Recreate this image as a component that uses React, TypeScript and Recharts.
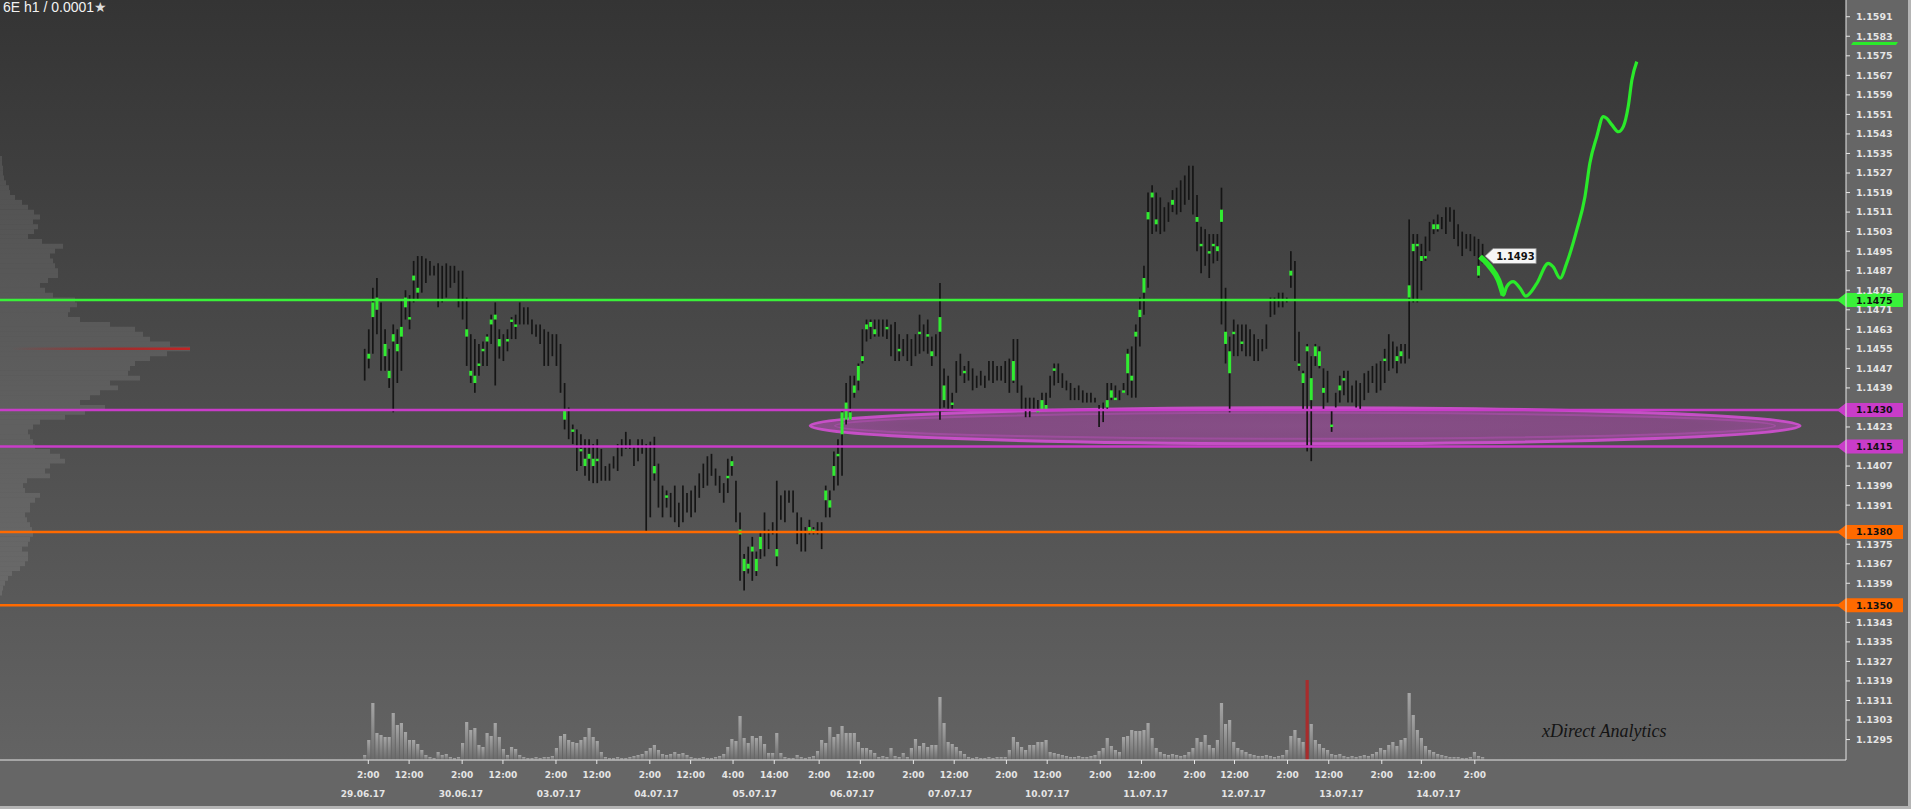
import React from 'react'
import {
  ComposedChart,
  Bar,
  Line,
  XAxis,
  YAxis,
  CartesianGrid,
  ReferenceLine,
  ReferenceArea,
  ReferenceDot,
} from 'recharts'

// prices are stored in pips above 1.1400
const BASE = 1.14
const PIP = 0.0001
const FIRST_BAR = -1

const highs = [
  55, 63, 80, 84, 74, 63, 55, 65, 63, 75,
  79, 77, 91, 93, 93, 92, 91, 89, 90, 89,
  90, 89, 89, 87, 87, 76, 61, 59, 57, 58,
  61, 69, 74, 63, 61, 63, 68, 69, 74, 72,
  72, 67, 65, 65, 63, 62, 61, 61, 57, 41,
  31, 24, 22, 20, 18, 18, 16, 18, 14, 7,
  8, 11, 16, 18, 21, 18, 15, 18, 18, 16,
  17, 19, 8, -1, -3, -4, -1, -8, -1, -4,
  -3, -1, 4, 8, 11, 12, 6, 3, 0, 10,
  11, 1, -12, -29, -26, -22, -28, -20, -12, -19,
  -16, 1, -5, -3, -3, -3, -12, -14, -18, -15,
  -18, -16, -16, -1, -3, 13, 18, 30, 41, 44,
  44, 49, 63, 67, 67, 67, 67, 67, 67, 65,
  66, 61, 59, 61, 59, 61, 69, 65, 67, 60,
  61, 82, 47, 44, 37, 50, 53, 48, 50, 47,
  44, 46, 44, 50, 50, 48, 48, 50, 51, 59,
  59, 40, 35, 35, 35, 34, 37, 37, 44, 49,
  49, 45, 42, 41, 39, 40, 38, 37, 37, 35,
  32, 33, 41, 41, 40, 38, 41, 55, 56, 65,
  76, 89, 119, 122, 119, 117, 113, 115, 120, 121,
  124, 126, 130, 130, 118, 105, 104, 102, 102, 102,
  121, 80, 60, 67, 65, 65, 65, 63, 61, 59,
  59, 65, 76, 76, 78, 78, 76, 95, 91, 62,
  46, 57, 52, 57, 56, 47, 46, 30, 37, 44,
  46, 46, 40, 42, 41, 45, 46, 48, 49, 50,
  55, 61, 58, 56, 57, 57, 108, 102, 102, 98,
  101, 107, 108, 110, 109, 113, 113, 112, 106, 103,
  102, 102, 101, 100, 98,
]

const lows = [
  42, 47, 53, 61, 46, 46, 39, 29, 41, 46,
  67, 63, 74, 75, 78, 82, 85, 85, 72, 74,
  76, 80, 82, 72, 67, 48, 41, 37, 44, 48,
  48, 57, 40, 51, 50, 54, 59, 59, 65, 65,
  65, 61, 60, 57, 48, 48, 52, 48, 37, 22,
  18, 16, 5, 7, 3, 1, 0, 0, 1, 1,
  1, 6, 5, 11, 14, 14, 7, 9, 12, -20,
  -14, 1, -10, -14, -10, -14, -16, -18, -16, -12,
  -14, -12, -6, -2, -1, 3, -1, -4, -8, -4,
  3, -16, -40, -44, -37, -40, -38, -31, -30, -27,
  -21, -34, -15, -16, -8, -12, -25, -28, -28, -21,
  -21, -21, -27, -14, -14, -3, -1, 3, 24, 26,
  35, 38, 49, 58, 59, 60, 60, 60, 59, 52,
  50, 50, 52, 50, 48, 52, 53, 54, 53, 48,
  52, 26, 31, 30, 30, 37, 44, 41, 42, 38,
  39, 40, 39, 42, 41, 42, 42, 41, 37, 41,
  37, 30, 27, 27, 30, 29, 30, 30, 35, 40,
  41, 39, 38, 34, 34, 34, 33, 33, 33, 33,
  23, 25, 30, 34, 34, 34, 37, 36, 35, 35,
  56, 69, 80, 102, 103, 102, 103, 107, 111, 110,
  111, 114, 116, 110, 95, 86, 89, 84, 90, 91,
  65, 49, 29, 52, 52, 54, 52, 52, 50, 50,
  54, 55, 68, 69, 72, 72, 74, 80, 50, 46,
  30, 13, 9, 48, 47, 30, 33, 21, 31, 33,
  36, 33, 33, 31, 30, 34, 37, 41, 37, 38,
  41, 46, 47, 45, 49, 49, 51, 74, 74, 79,
  91, 95, 102, 103, 104, 102, 107, 100, 97, 93,
  96, 95, 93, 84, 90,
]

const opens = [
  52, 51, 68, 71, 72, 52, 43, 58, 54, 60,
  72, 67, 83, 78, 90, 90, 90, 88, 88, 86,
  88, 88, 88, 86, 85, 60, 44, 41, 48, 54,
  58, 65, 67, 56, 60, 58, 66, 64, 73, 71,
  71, 66, 64, 64, 62, 60, 59, 60, 52, 26,
  29, 21, 20, 13, 7, 10, 7, 9, 12, 6,
  7, 10, 14, 17, 20, 17, 14, 17, 17, 14,
  15, 4, 7, -2, -6, -5, -2, -9, -3, -5,
  -4, -2, 3, 7, 10, 11, 5, 2, -1, 2,
  7, 0, -21, -36, -35, -28, -36, -27, -14, -20,
  -17, -30, -6, -5, -4, -4, -13, -16, -19, -20,
  -20, -17, -17, -7, -10, 3, 11, 20, 26, 26,
  37, 42, 50, 63, 64, 61, 66, 66, 63, 64,
  65, 54, 58, 60, 58, 60, 61, 64, 60, 52,
  60, 62, 34, 42, 32, 48, 52, 45, 48, 46,
  43, 45, 43, 49, 49, 47, 47, 49, 50, 42,
  57, 39, 34, 34, 35, 29, 30, 30, 43, 46,
  48, 44, 42, 40, 38, 39, 37, 37, 36, 35,
  31, 32, 31, 35, 34, 37, 37, 45, 42, 60,
  68, 78, 108, 117, 106, 116, 112, 113, 114, 119,
  123, 124, 129, 128, 107, 97, 103, 94, 97, 95,
  107, 57, 45, 61, 64, 57, 64, 62, 60, 58,
  58, 64, 75, 76, 77, 77, 76, 85, 90, 48,
  41, 54, 34, 52, 48, 37, 45, 23, 36, 38,
  42, 45, 39, 41, 40, 44, 46, 48, 48, 49,
  50, 60, 57, 50, 52, 57, 76, 95, 97, 91,
  92, 106, 104, 104, 108, 112, 112, 111, 105, 102,
  102, 101, 100, 85, 96,
]

const closes = [
  45, 53, 74, 76, 50, 57, 46, 61, 57, 64,
  76, 68, 85, 80, 80, 84, 86, 86, 75, 76,
  80, 82, 84, 75, 70, 63, 46, 44, 49, 55,
  60, 67, 69, 59, 52, 59, 67, 65, 66, 66,
  67, 62, 61, 58, 50, 50, 53, 49, 40, 30,
  20, 22, 7, 14, 10, 12, 10, 10, 3, 2,
  2, 7, 7, 12, 15, 15, 8, 10, 13, -16,
  -10, 7, -8, -12, -5, -13, -14, -17, -14, -11,
  -12, -10, -5, 0, 0, 4, 0, -3, -7, 3,
  9, -12, -19, -31, -33, -26, -31, -22, -28, -26,
  -20, -27, -14, -14, -7, -11, -23, -26, -27, -18,
  -19, -20, -26, -3, -7, 7, 12, 29, 33, 29,
  40, 48, 52, 65, 66, 63, 61, 62, 64, 53,
  52, 55, 53, 51, 49, 53, 62, 55, 61, 54,
  53, 68, 40, 32, 33, 38, 45, 46, 43, 39,
  40, 41, 40, 43, 42, 43, 43, 42, 38, 50,
  39, 31, 28, 28, 31, 30, 34, 32, 36, 47,
  42, 40, 39, 35, 35, 35, 34, 33, 33, 33,
  24, 26, 34, 38, 35, 35, 38, 53, 44, 62,
  71, 84, 111, 119, 108, 104, 105, 108, 116, 112,
  113, 115, 117, 112, 109, 98, 90, 95, 98, 97,
  112, 62, 54, 62, 53, 58, 53, 54, 51, 51,
  55, 56, 69, 70, 72, 72, 74, 87, 52, 49,
  45, 56, 43, 56, 54, 39, 34, 24, 31, 40,
  43, 35, 33, 32, 31, 35, 37, 41, 39, 39,
  51, 47, 48, 52, 54, 50, 81, 98, 98, 93,
  93, 96, 106, 106, 105, 104, 108, 102, 98, 95,
  97, 96, 94, 89, 93,
]

const volumes = [
  5, 20, 57, 27, 25, 23, 23, 47, 35, 37,
  28, 20, 20, 16, 10, 5, 3, 2, 8, 5,
  6, 3, 2, 3, 17, 38, 30, 32, 15, 13,
  27, 24, 37, 23, 11, 5, 13, 11, 5, 3,
  2, 2, 3, 2, 3, 3, 4, 12, 24, 26,
  20, 18, 17, 20, 23, 32, 23, 19, 8, 3,
  2, 2, 3, 2, 2, 3, 4, 5, 6, 9,
  12, 15, 10, 6, 5, 6, 8, 6, 7, 5,
  3, 2, 2, 3, 2, 2, 3, 4, 6, 13,
  21, 19, 44, 22, 17, 24, 22, 24, 16, 7,
  7, 27, 7, 3, 2, 2, 5, 3, 2, 3,
  4, 9, 20, 17, 33, 23, 26, 34, 27, 27,
  27, 18, 12, 12, 10, 7, 3, 4, 3, 12,
  4, 3, 7, 3, 12, 21, 14, 17, 13, 15,
  15, 63, 37, 18, 16, 13, 9, 6, 3, 2,
  3, 2, 2, 3, 2, 3, 3, 3, 10, 23,
  18, 13, 10, 15, 15, 18, 18, 20, 8, 7,
  6, 5, 4, 3, 3, 4, 3, 3, 4, 5,
  9, 12, 22, 14, 10, 8, 23, 24, 30, 29,
  29, 30, 37, 22, 12, 8, 6, 5, 6, 5,
  4, 5, 8, 12, 22, 18, 25, 15, 12, 20,
  57, 36, 40, 18, 12, 10, 8, 6, 5, 4,
  4, 5, 4, 3, 4, 5, 10, 24, 30, 22,
  18, 80, 36, 20, 16, 12, 10, 6, 5, 6,
  4, 3, 4, 3, 4, 5, 4, 6, 8, 12,
  10, 15, 18, 14, 20, 22, 67, 45, 30, 22,
  14, 10, 8, 6, 5, 4, 3, 3, 3, 2,
  2, 3, 8, 4, 3,
]

// volume at price (left profile)
const profileLevels = [
  1.1533, 1.1531, 1.1529, 1.1527, 1.1525, 1.1523, 1.1521, 1.1519, 1.1517, 1.1515,
  1.1513, 1.1511, 1.1509, 1.1507, 1.1505, 1.1503, 1.1501, 1.1499, 1.1497, 1.1495,
  1.1493, 1.1491, 1.1489, 1.1487, 1.1485, 1.1483, 1.1481, 1.1479, 1.1477, 1.1475,
  1.1473, 1.1471, 1.1469, 1.1467, 1.1465, 1.1463, 1.1461, 1.1459, 1.1457, 1.1455,
  1.1453, 1.1451, 1.1449, 1.1447, 1.1445, 1.1443, 1.1441, 1.1439, 1.1437, 1.1435,
  1.1433, 1.1431, 1.1429, 1.1427, 1.1425, 1.1423, 1.1421, 1.1419, 1.1417, 1.1415,
  1.1413, 1.1411, 1.1409, 1.1407, 1.1405, 1.1403, 1.1401, 1.1399, 1.1397, 1.1395,
  1.1393, 1.1391, 1.1389, 1.1387, 1.1385, 1.1383, 1.1381, 1.1379, 1.1377, 1.1375,
  1.1373, 1.1371, 1.1369, 1.1367, 1.1365, 1.1363, 1.1361, 1.1359, 1.1357, 1.1355,
]
const profileVolumes = [
  2, 2, 3, 3, 4, 6, 9, 10, 15, 22,
  28, 34, 40, 33, 38, 34, 28, 42, 63, 55,
  50, 53, 55, 58, 58, 48, 40, 45, 53, 75,
  77, 70, 68, 80, 110, 135, 143, 150, 170, 190,
  167, 150, 135, 130, 128, 140, 110, 118, 100, 90,
  80, 105, 85, 65, 40, 33, 28, 30, 33, 35,
  50, 60, 65, 50, 45, 50, 27, 23, 25, 40,
  35, 30, 30, 25, 27, 30, 32, 33, 30, 28,
  22, 28, 28, 25, 20, 12, 8, 5, 3, 2,
]

// hand-drawn projection (bar index, pips)
const projIndex = [
  272.5, 274.9, 277.0, 278.2, 279.0, 280.6, 282.3, 283.7, 286.4, 289.2, 290.4, 292.1, 293.7,
  296.2, 298.2, 299.4, 301.1, 302.7, 303.5, 304.8, 306.4, 307.6, 308.8, 309.7, 310.9,
]
const projPips = [
  92.7, 88.6, 83.2, 77.0, 80.4, 82.5, 79.8, 76.6, 81.8, 90.0, 88.6, 83.9, 90.0,
  103.7, 117.3, 131.0, 141.9, 150.1, 149.4, 146.7, 143.9, 146.0, 154.2, 165.1, 172.6,
]

const levelPrices = [1.1475, 1.143, 1.1415, 1.138, 1.135]
const levelColors = ['#39f139', '#c93cc9', '#c93cc9', '#ff6a00', '#ff6a00']
const targetPrice = 1.158

// accumulation zone (ellipse)
const zoneFrom = 108.3
const zoneTo = 350.9
const zoneLow = 1.14161
const zoneHigh = 1.14309

const priceTicks = [
  1.1591, 1.1583, 1.1575, 1.1567, 1.1559, 1.1551, 1.1543, 1.1535, 1.1527, 1.1519,
  1.1511, 1.1503, 1.1495, 1.1487, 1.1479, 1.1471, 1.1463, 1.1455, 1.1447, 1.1439,
  1.1423, 1.1407, 1.1399, 1.1391, 1.1375, 1.1367, 1.1359, 1.1343, 1.1335, 1.1327,
  1.1319, 1.1311, 1.1303, 1.1295,
]
const timeTicks = [
  0, 10, 23, 33, 46, 56, 69, 79, 89.4, 99.5, 110.5, 120.6, 133.6, 143.6, 156.4, 166.4,
  179.4, 189.5, 202.5, 212.3, 225.3, 235.4, 248.4, 258.1, 271.2,
]
const timeLabels = [
  '2:00', '12:00', '2:00', '12:00', '2:00', '12:00', '2:00', '12:00', '4:00', '14:00',
  '2:00', '12:00', '2:00', '12:00', '2:00', '12:00', '2:00', '12:00', '2:00', '12:00',
  '2:00', '12:00', '2:00', '12:00', '2:00',
]
const dateTicks = [-1.3, 22.7, 46.7, 70.6, 94.7, 118.6, 142.6, 166.4, 190.5, 214.5, 238.5, 262.3]
const dateLabels = [
  '29.06.17', '30.06.17', '03.07.17', '04.07.17', '05.07.17', '06.07.17',
  '07.07.17', '10.07.17', '11.07.17', '12.07.17', '13.07.17', '14.07.17',
]

const X_DOMAIN: [number, number] = [-90.27, 362.18]
const Y_DOMAIN: [number, number] = [1.128663, 1.159785]
const PROFILE_AXIS_MAX = 1846
const VOLUME_AXIS_MAX = 760
const AXIS_FONT = 'DejaVu Sans, Verdana, sans-serif'

const maxVol = Math.max(...volumes)
const candles = highs.map((h, k) => {
  const hi = BASE + h * PIP
  const lo = BASE + lows[k] * PIP
  return {
    i: FIRST_BAR + k,
    h: hi,
    l: lo,
    o: BASE + opens[k] * PIP,
    c: BASE + closes[k] * PIP,
    range: [lo, hi],
    vol: volumes[k],
    isMax: volumes[k] === maxVol,
  }
})
const lastBar = candles[candles.length - 1]

const projection = projIndex.map((i, k) => ({ i, p: BASE + projPips[k] * PIP }))
const projHead = projection.slice(0, 4)

const maxProfile = Math.max(...profileVolumes)
const pocPrice = profileLevels[profileVolumes.indexOf(maxProfile)]

function CandleShape(props: any) {
  const { x, y, width, height, payload } = props
  if (x == null || y == null || !payload) return null
  const top = Math.min(y, y + height)
  const len = Math.abs(height)
  const cx = x + width / 2
  const span = payload.h - payload.l
  const toY = (v: number) => (span > 0 ? top + ((payload.h - v) / span) * len : top)
  const up = payload.c > payload.o
  const bTop = toY(Math.max(payload.o, payload.c))
  const bBot = toY(Math.min(payload.o, payload.c))
  return (
    <g>
      <line x1={cx} x2={cx} y1={top} y2={top + Math.max(len, 1)} stroke="#151515" strokeWidth={1.7} />
      {up && (
        <rect x={cx - 1.5} y={bTop} width={3} height={Math.max(bBot - bTop, 2)} fill="#31ec31" />
      )}
    </g>
  )
}

function VolumeShape(props: any) {
  const { x, y, width, height, payload } = props
  if (x == null || y == null || !payload) return null
  const top = Math.min(y, y + height)
  return (
    <rect
      x={x + width / 2 - 1.6}
      y={top}
      width={3.2}
      height={Math.abs(height)}
      fill={payload.isMax ? '#a82c2c' : 'url(#volFill)'}
    />
  )
}

function ZoneShape(props: any) {
  const { x, y, width, height } = props
  const cx = x + width / 2
  const cy = y + height / 2
  const rx = width / 2
  const ry = Math.abs(height) / 2
  return (
    <g>
      <ellipse cx={cx} cy={cy} rx={rx} ry={ry} fill="url(#zoneFill)" fillOpacity={1}
        stroke="#cf50cf" strokeOpacity={0.9} strokeWidth={3} />
      <ellipse cx={cx} cy={cy} rx={rx * 0.95} ry={ry * 0.72} fill="none"
        stroke="#cf50cf" strokeOpacity={0.35} strokeWidth={2} />
    </g>
  )
}

function LevelTag(props: any) {
  const { viewBox, text, color } = props
  if (!viewBox) return null
  const r = viewBox.x + viewBox.width
  const y = viewBox.y
  return (
    <g>
      <path
        d={`M${r - 9},${y} L${r},${y - 7} L${r + 57},${y - 7} L${r + 57},${y + 7} L${r},${y + 7} Z`}
        fill={color}
      />
      <text x={r + 10} y={y + 3.5} fontSize={9.5} fontWeight="bold" fontFamily={AXIS_FONT} fill="#111">
        {text}
      </text>
    </g>
  )
}

function TargetMark(props: any) {
  const { viewBox } = props
  if (!viewBox) return null
  const r = viewBox.x + viewBox.width
  const y = viewBox.y
  return (
    <path d={`M${r + 5},${y + 1.5} L${r + 7},${y - 1.5} L${r + 52},${y - 1.5} L${r + 50},${y + 1.5} Z`}
      fill="#2aea2a" />
  )
}

function LastPriceTag(props: any) {
  const { cx, cy, text } = props
  if (cx == null || cy == null) return null
  return (
    <g>
      <path
        d={`M${cx + 3},${cy} L${cx + 11},${cy - 7.5} L${cx + 54},${cy - 7.5} L${cx + 54},${cy + 7.5} L${cx + 11},${cy + 7.5} Z`}
        fill="#f6f6f6"
        stroke="#8a8a8a"
        strokeWidth={0.8}
      />
      <text x={cx + 14} y={cy + 3.6} fontSize={10} fontWeight="bold" fontFamily={AXIS_FONT} fill="#111">
        {text}
      </text>
    </g>
  )
}

function PriceTick(props: any) {
  const { x, y, payload } = props
  return (
    <text x={x} y={y} dy={3.4} textAnchor="start" fontSize={9.5} fontWeight="bold"
      fontFamily={AXIS_FONT} fill="#e4e4e4">
      {Number(payload.value).toFixed(4)}
    </text>
  )
}

function TimeTick(props: any) {
  const { x, y, payload } = props
  const k = timeTicks.indexOf(payload.value)
  return (
    <text x={x} y={y} dy={12} textAnchor="middle" fontSize={9} fontWeight="bold"
      fontFamily={AXIS_FONT} fill="#e4e4e4">
      {timeLabels[k]}
    </text>
  )
}

function DateTick(props: any) {
  const { x, y, payload } = props
  const k = dateTicks.indexOf(payload.value)
  return (
    <text x={x} y={y} dy={14.5} textAnchor="middle" fontSize={9} fontWeight="bold"
      fontFamily={AXIS_FONT} fill="#e4e4e4">
      {dateLabels[k]}
    </text>
  )
}

export default function App() {
  return (
    <div style={{ position: 'absolute', left: 0, top: 0, width: 1911, height: 809, background: '#b4b4b4' }}>
      <div style={{ position: 'relative', width: 1908, height: 806, background: '#666666' }}>
        <ComposedChart width={1908} height={806} data={candles} margin={{ top: 0, right: 0, bottom: 0, left: 0 }}>
          <defs>
            <linearGradient id="plotBg" x1="0" y1="0" x2="0" y2="1">
              <stop offset="0%" stopColor="#343434" />
              <stop offset="100%" stopColor="#636363" />
            </linearGradient>
            <linearGradient id="volFill" x1="0" y1="0" x2="0" y2="1">
              <stop offset="0%" stopColor="#a6a6a6" />
              <stop offset="100%" stopColor="#6a6a6a" />
            </linearGradient>
            <linearGradient id="pocFill" x1="0" y1="0" x2="1" y2="0">
              <stop offset="0%" stopColor="#b02222" stopOpacity={0} />
              <stop offset="60%" stopColor="#b02222" stopOpacity={0.8} />
              <stop offset="100%" stopColor="#c42424" stopOpacity={1} />
            </linearGradient>
            <radialGradient id="zoneFill" cx="0.5" cy="0.5" r="0.5">
              <stop offset="0%" stopColor="#b44fb4" stopOpacity={0.55} />
              <stop offset="80%" stopColor="#c048c0" stopOpacity={0.45} />
              <stop offset="100%" stopColor="#c84ac8" stopOpacity={0.5} />
            </radialGradient>
          </defs>
          <CartesianGrid horizontal={false} vertical={false} fill="url(#plotBg)" stroke="none" />

          <XAxis dataKey="i" type="number" domain={X_DOMAIN} ticks={timeTicks} interval={0}
            allowDataOverflow height={22} tickSize={4} tickMargin={2} stroke="#e6e6e6" tick={<TimeTick />} />
          <XAxis xAxisId="d" dataKey="i" type="number" domain={X_DOMAIN} ticks={dateTicks} interval={0}
            allowDataOverflow height={24} axisLine={false} tickLine={false} tickSize={0} tickMargin={0}
            tick={<DateTick />} />
          <XAxis xAxisId="v" dataKey="i" type="number" domain={X_DOMAIN} allowDataOverflow hide />
          <XAxis xAxisId="pj" dataKey="i" type="number" domain={X_DOMAIN} allowDataOverflow hide />
          <XAxis xAxisId="prof" dataKey="profileVolume" type="number" domain={[0, PROFILE_AXIS_MAX]}
            allowDataOverflow hide />
          <YAxis orientation="right" type="number" domain={Y_DOMAIN} ticks={priceTicks} interval={0}
            allowDataOverflow width={62} tickSize={4} tickMargin={6} stroke="#e6e6e6" tick={<PriceTick />} />
          <YAxis yAxisId="vol" type="number" domain={[0, VOLUME_AXIS_MAX]} allowDataOverflow hide />

          {profileLevels.map((p, k) => (
            <ReferenceArea key={`pf${k}`} xAxisId="prof" x1={0} x2={profileVolumes[k]}
              y1={p - PIP} y2={p + PIP} fill="#ffffff" fillOpacity={0.1} stroke="none" />
          ))}
          <ReferenceArea xAxisId="prof" x1={maxProfile * 0.06} x2={maxProfile}
            y1={pocPrice - PIP * 0.5} y2={pocPrice + PIP * 0.5} fill="url(#pocFill)" fillOpacity={1} stroke="none" />

          <Bar xAxisId="v" yAxisId="vol" dataKey="vol" barSize={3} shape={VolumeShape} isAnimationActive={false} />

          <ReferenceArea x1={zoneFrom} x2={zoneTo} y1={zoneLow} y2={zoneHigh} shape={ZoneShape} />

          {levelPrices.map((p, k) => (
            <ReferenceLine key={`lv${k}`} y={p} stroke={levelColors[k]} strokeWidth={2.5}
              label={(lp: any) => <LevelTag {...lp} text={p.toFixed(4)} color={levelColors[k]} />} />
          ))}
          <ReferenceLine y={targetPrice} stroke="none" strokeOpacity={0}
            label={(lp: any) => <TargetMark {...lp} />} />

          <Bar dataKey="range" barSize={3} shape={CandleShape} isAnimationActive={false} />

          <Line xAxisId="pj" data={projection} dataKey="p" type="monotone" stroke="#2aea2a" strokeWidth={3.2}
            dot={false} activeDot={false} isAnimationActive={false} />
          <Line xAxisId="pj" data={projHead} dataKey="p" type="monotone" stroke="#2aea2a" strokeWidth={5.5}
            dot={false} activeDot={false} isAnimationActive={false} />

          <ReferenceDot x={lastBar.i} y={lastBar.c} r={0}
            shape={(dp: any) => <LastPriceTag cx={dp.cx} cy={dp.cy} text={lastBar.c.toFixed(4)} />} />
        </ComposedChart>

        <div style={{ position: 'absolute', left: 3, top: 0, fontFamily: 'Liberation Sans, Arial, sans-serif',
          fontSize: 14, lineHeight: '15px', color: '#f2f2f2', whiteSpace: 'nowrap' }}>
          6E h1 / 0.0001<span style={{ color: '#dcdcdc' }}>★</span>
        </div>
        <div style={{ position: 'absolute', left: 1542, top: 722, fontFamily: 'Liberation Serif, Times New Roman, serif',
          fontStyle: 'italic', fontSize: 18, lineHeight: '18px', color: '#141414', whiteSpace: 'nowrap' }}>
          xDirect Analytics
        </div>
      </div>
    </div>
  )
}
